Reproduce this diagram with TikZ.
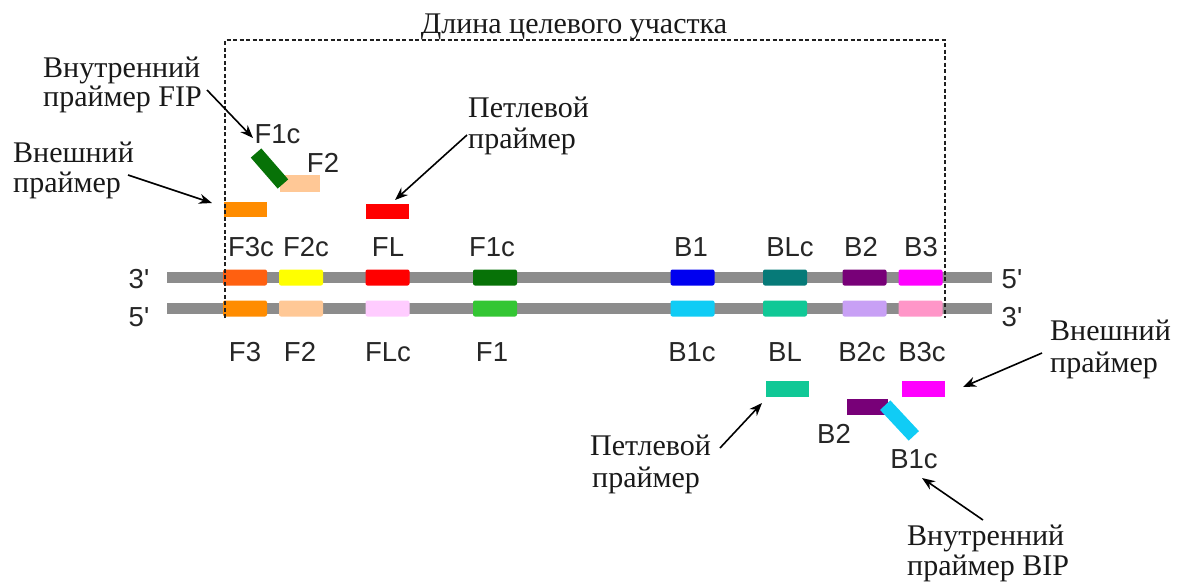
\documentclass[tikz,border=0pt]{standalone}
\usepackage{fontspec}
\setmainfont{Liberation Serif}
\newfontfamily\lbl{Liberation Sans}
\usetikzlibrary{arrows.meta}
\definecolor{strandgray}{HTML}{8C8C8C}
\definecolor{cFthreec}{HTML}{FF6010}
\definecolor{cFtwoc}{HTML}{FFFF00}
\definecolor{cFL}{HTML}{FF0000}
\definecolor{cFonec}{HTML}{077207}
\definecolor{cBone}{HTML}{0000F0}
\definecolor{cBLc}{HTML}{067A78}
\definecolor{cBtwo}{HTML}{780078}
\definecolor{cBthree}{HTML}{FF00FF}
\definecolor{cFthree}{HTML}{FF8C00}
\definecolor{cFtwo}{HTML}{FFC896}
\definecolor{cFLc}{HTML}{FFCCFF}
\definecolor{cFone}{HTML}{33C633}
\definecolor{cBonec}{HTML}{10CCF5}
\definecolor{cBL}{HTML}{10C896}
\definecolor{cBtwoc}{HTML}{C8A0F5}
\definecolor{cBthreec}{HTML}{FF96C8}
\definecolor{framegray}{HTML}{202020}
\begin{document}
\begin{tikzpicture}[x=1pt,y=-1pt,
  seg/.style={rectangle, minimum width=44pt, minimum height=16pt, inner sep=0pt, rounded corners=2pt},
  primer/.style={rectangle, minimum width=43pt, minimum height=15pt, inner sep=0pt},
  strand/.style={draw=strandgray, line width=11pt},
  lab/.style={font=\lbl\fontsize{27.5}{27.5}\selectfont, inner sep=0pt, anchor=base, text=black!85},
  txt/.style={font=\rmfamily\fontsize{30}{30}\selectfont, inner sep=0pt, anchor=base west, text=black!90},
  arr/.style={-{Stealth[length=13pt,width=10pt]}, line width=1.6pt},
  frame/.style={draw=framegray, line width=1.2pt, dash pattern=on 4pt off 2.5pt}]
\useasboundingbox (0,0) rectangle (1177,582);

% strands
\draw[strand] (167,277.5) -- (992,277.5);
\draw[strand] (167,308.5) -- (992,308.5);

% upper strand segments
\node[seg, fill=cFthreec] (sF3c) at (245,277.5) {};
\node[seg, fill=cFtwoc]   (sF2c) at (301,277.5) {};
\node[seg, fill=cFL]      (sFL)  at (387.5,277.5) {};
\node[seg, fill=cFonec]   (sF1c) at (495,277.5) {};
\node[seg, fill=cBone]    (sB1)  at (692.5,277.5) {};
\node[seg, fill=cBLc]     (sBLc) at (785,277.5) {};
\node[seg, fill=cBtwo]    (sB2)  at (864.5,277.5) {};
\node[seg, fill=cBthree]  (sB3)  at (920.5,277.5) {};
% lower strand segments
\node[seg, fill=cFthree]  (sF3)  at (245,308.5) {};
\node[seg, fill=cFtwo]    (sF2)  at (301,308.5) {};
\node[seg, fill=cFLc]     (sFLc) at (387.5,308.5) {};
\node[seg, fill=cFone]    (sF1)  at (495,308.5) {};
\node[seg, fill=cBonec]   (sB1c) at (692.5,308.5) {};
\node[seg, fill=cBL]      (sBL)  at (785,308.5) {};
\node[seg, fill=cBtwoc]   (sB2c) at (864.5,308.5) {};
\node[seg, fill=cBthreec] (sB3c) at (920.5,308.5) {};

% labels above / below
\node[lab] (lF3c) at (251,256) {F3c};
\node[lab] (lF2c) at (306,256) {F2c};
\node[lab] (lFL)  at (388,256) {FL};
\node[lab] (lF1c) at (492,256) {F1c};
\node[lab] (lB1)  at (691,256) {B1};
\node[lab] (lBLc) at (790,256) {BLc};
\node[lab] (lB2)  at (861,256) {B2};
\node[lab] (lB3)  at (921,256) {B3};
\node[lab] (lF3)  at (245,361) {F3};
\node[lab] (lF2)  at (300,361) {F2};
\node[lab] (lFLc) at (388,361) {FLc};
\node[lab] (lF1)  at (492,361) {F1};
\node[lab] (lB1c) at (692,361) {B1c};
\node[lab] (lBL)  at (785,361) {BL};
\node[lab] (lB2c) at (862,361) {B2c};
\node[lab] (lB3c) at (922,361) {B3c};

% strand ends
\node[lab] (e3L) at (139,288) {3'};
\node[lab] (e5L) at (139,326) {5'};
\node[lab] (e5R) at (1012,288) {5'};
\node[lab] (e3R) at (1012,326) {3'};

% primers, forward side
\node[primer, fill=cFthree] (pF3) at (245.5,209.5) {};
\node[primer, fill=cFtwo, minimum width=40pt, minimum height=17pt] (pF2) at (300,183.5) {};
\node[primer, fill=cFonec, minimum width=41pt, minimum height=14pt, rotate=-49] (pF1c) at (269.5,168.5) {};
\node[primer, fill=cFL] (pFL) at (387,211.5) {};
\node[lab] (tF1c) at (277.5,143) {F1c};
\node[lab] (tF2)  at (323,172) {F2};

% primers, backward side
\node[primer, fill=cBL, minimum height=16pt] (pBL) at (787.5,389) {};
\node[primer, fill=cBthree, minimum height=16pt] (pB3) at (923,389) {};
\node[primer, fill=cBtwo, minimum width=41pt, minimum height=16pt] (pB2) at (867.5,407) {};
\node[primer, fill=cBonec, minimum width=42pt, minimum height=14pt, rotate=-47] (pB1c) at (899.5,420.5) {};
\node[lab] (tB2)  at (834,443) {B2};
\node[lab] (tB1c) at (914,468) {B1c};

% frame
\coordinate (fBL) at (225,318);
\coordinate (fTL) at (225,40);
\coordinate (fTR) at (945,40);
\coordinate (fBR) at (945,318);
\draw[frame] (fBL) -- (fTL) -- (fTR) -- (fBR);
\node[txt, anchor=base] (title) at (574,33) {Длина целевого участка};

% texts
\node[txt] (fipA) at (43,77) {Внутренний};
\node[txt] (fipB) at (43,106) {праймер FIP};
\node[txt] (outLA) at (13,162) {Внешний};
\node[txt] (outLB) at (13,192) {праймер};
\node[txt] (loopTA) at (468,117) {Петлевой};
\node[txt] (loopTB) at (468,148) {праймер};
\node[txt] (outRA) at (1050,340) {Внешний};
\node[txt] (outRB) at (1050,372) {праймер};
\node[txt] (loopBA) at (590,455) {Петлевой};
\node[txt] (loopBB) at (592,487) {праймер};
\node[txt] (bipA) at (907,545) {Внутренний};
\node[txt] (bipB) at (907,575) {праймер BIP};

% arrows
\coordinate (aFIPs) at (207,90);   \coordinate (aFIPe) at (253,138);
\coordinate (aOLs) at (128,175);   \coordinate (aOLe) at (212,203);
\coordinate (aLTs) at (467,135);   \coordinate (aLTe) at (395,200);
\coordinate (aORs) at (1042,353);  \coordinate (aORe) at (963,387);
\coordinate (aLBs) at (720,448);   \coordinate (aLBe) at (762,403);
\coordinate (aBIPs) at (983,520);  \coordinate (aBIPe) at (922,478);
\draw[arr] (aFIPs) -- (aFIPe);
\draw[arr] (aOLs) -- (aOLe);
\draw[arr] (aLTs) -- (aLTe);
\draw[arr] (aORs) -- (aORe);
\draw[arr] (aLBs) -- (aLBe);
\draw[arr] (aBIPs) -- (aBIPe);
\end{tikzpicture}
\end{document}
